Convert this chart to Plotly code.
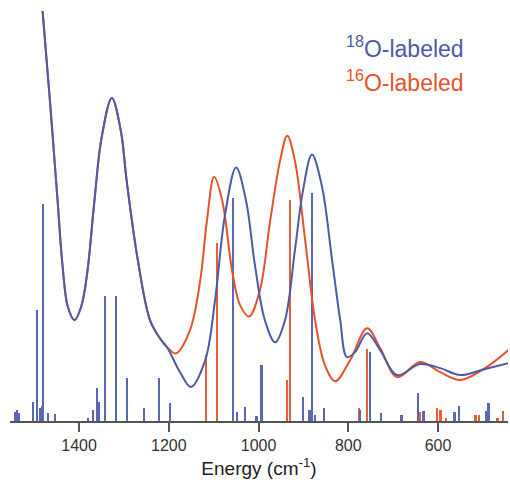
import plotly.graph_objects as go

BLUE = "#4d5ba6"
RED = "#e5532c"
STICK_BLUE = "#5a68b4"
STICK_RED = "#e2603a"

# 18O-labeled broadened spectrum (energy cm^-1, intensity a.u.)
blue_curve_x = [1497, 1481, 1465, 1448, 1437, 1425, 1410, 1395, 1382, 1366, 1350, 1327, 1307, 1294, 1269,
                1242, 1220, 1204, 1175, 1151, 1119, 1097, 1075, 1050, 1028, 1008, 986, 963, 941,
                919, 901, 881, 859, 836, 818, 803, 785, 758, 729, 691, 640, 595, 550, 495, 443]
blue_curve_y = [121.9, 99.5, 78.1, 53.8, 38.0, 27.8, 24.6, 28.0, 36.0, 53.5, 69.0, 78.8, 70.8, 58.6, 39.2,
                24.6, 20.2, 18.0, 11.9, 8.3, 14.8, 29.4, 50.1, 61.8, 53.8, 38.0, 24.6, 19.2, 24.6,
                41.6, 56.2, 65.0, 57.4, 39.2, 24.6, 15.6, 16.8, 21.4, 17.3, 11.2, 13.9, 12.9, 11.2, 12.7, 14.1]

# 16O-labeled broadened spectrum
red_curve_x = [1497, 1481, 1465, 1448, 1437, 1425, 1410, 1395, 1382, 1366, 1350, 1327, 1307, 1294, 1269,
               1242, 1220, 1204, 1184, 1153, 1130, 1115, 1099, 1081, 1059, 1041, 1021, 997, 974,
               952, 936, 919, 896, 874, 852, 829, 796, 758, 729, 691, 640, 595, 550, 495, 443]
red_curve_y = [121.9, 99.5, 78.1, 53.8, 38.0, 27.8, 24.6, 28.0, 36.0, 53.5, 69.0, 78.8, 70.8, 58.6, 39.2,
               24.6, 20.2, 18.0, 16.5, 22.1, 34.3, 48.9, 59.6, 53.8, 36.7, 28.2, 25.5, 31.9, 48.9,
               63.5, 69.6, 63.5, 44.0, 24.6, 13.6, 9.7, 14.8, 22.6, 17.8, 10.7, 14.4, 11.9, 10.0, 12.9, 17.3]

# Stick spectra
blue_stick_x = [1544, 1539, 1535, 1503, 1494, 1488, 1483, 1481, 1470, 1454, 1381, 1369, 1360, 1356,
                1343, 1318, 1294, 1256, 1222, 1198, 1057, 1048, 1030, 1005, 994, 901, 887, 881,
                874, 854, 774, 753, 727, 682, 646, 633, 564, 553, 494, 488]
blue_stick_y = [2.2, 2.7, 1.9, 4.6, 27.0, 3.2, 3.6, 53.0, 1.9, 1.7, 0.7, 2.7, 8.0, 4.6,
                30.4, 30.4, 10.5, 3.2, 10.5, 4.4, 54.3, 2.2, 3.4, 1.2, 13.6, 5.8, 2.7, 55.5,
                1.5, 3.2, 2.7, 16.8, 1.9, 1.5, 6.8, 2.4, 2.2, 3.6, 2.4, 4.4]

red_stick_x = [1118, 1093, 937, 930, 776, 758, 727, 640, 633, 602, 595, 582, 517, 510, 488, 468, 455]
red_stick_y = [16.1, 43.3, 10.0, 54.0, 3.2, 17.5, 1.9, 2.2, 2.2, 3.2, 2.7, 0.7, 1.5, 1.5, 4.4, 0.7, 2.4]

tick_vals = [1400, 1200, 1000, 800, 600]
tick_text = ["1400", "1200", "1000", "800", "600"]

fig = go.Figure()
fig.add_trace(go.Bar(x=red_stick_x, y=red_stick_y, width=3.8, marker=dict(color=STICK_RED, line=dict(width=0)),
                     showlegend=False))
fig.add_trace(go.Bar(x=blue_stick_x, y=blue_stick_y, width=3.8, marker=dict(color=STICK_BLUE, line=dict(width=0)),
                     showlegend=False))
fig.add_trace(go.Scatter(x=red_curve_x, y=red_curve_y, mode="lines",
                         line=dict(color=RED, width=2, shape="spline", smoothing=1.0), showlegend=False))
fig.add_trace(go.Scatter(x=blue_curve_x, y=blue_curve_y, mode="lines",
                         line=dict(color=BLUE, width=2, shape="spline", smoothing=1.0), showlegend=False))

fig.add_annotation(x=1, y=0.871, xref="paper", yref="paper", xanchor="right", yanchor="bottom",
                   text="<sup>18</sup>O-labeled", showarrow=False,
                   font=dict(family="Liberation Sans", size=23, color=BLUE), xshift=-42)
fig.add_annotation(x=1, y=0.787, xref="paper", yref="paper", xanchor="right", yanchor="bottom",
                   text="<sup>16</sup>O-labeled", showarrow=False,
                   font=dict(family="Liberation Sans", size=23, color=RED), xshift=-42)

fig.update_layout(
    width=510, height=484,
    margin=dict(l=10, r=2, t=11, b=63),
    paper_bgcolor="white", plot_bgcolor="white",
    barmode="overlay", bargap=0,
    xaxis=dict(range=[1554, 444], tickvals=tick_vals, ticktext=tick_text,
               showgrid=False, zeroline=False, showline=True, linecolor="#555", linewidth=1.5,
               ticks="outside", ticklen=9, tickwidth=1.5, tickcolor="#555",
               tickfont=dict(family="Liberation Sans", size=16, color="#333"),
               title=dict(text="Energy (cm<sup>-1</sup>)", standoff=9,
                          font=dict(family="Liberation Sans", size=19, color="#222"))),
    yaxis=dict(range=[0, 100], visible=False, showgrid=False, zeroline=False),
)

fig.write_html("out.html")
